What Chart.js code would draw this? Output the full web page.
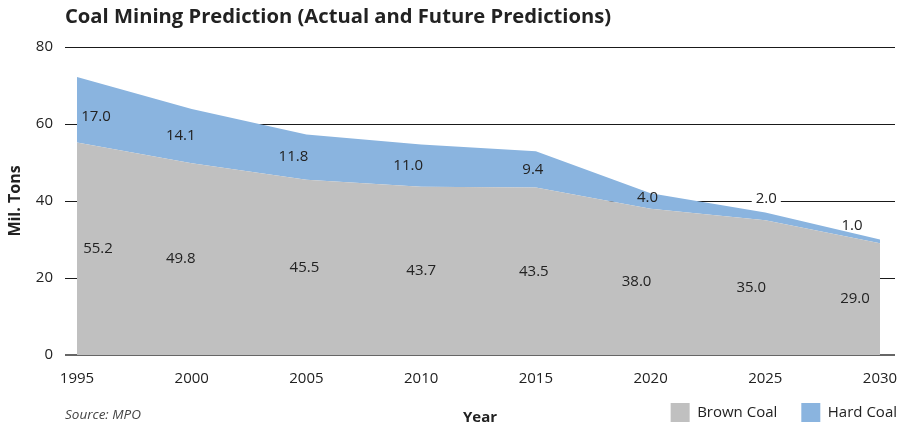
<!DOCTYPE html>
<html>
<head>
<meta charset="utf-8">
<script src="https://cdn.jsdelivr.net/npm/chart.js@4.4.1/dist/chart.umd.min.js"></script>
<style>
  html, body { margin: 0; padding: 0; background: #fff; }
  #wrap { width: 904px; height: 425px; position: relative; }
</style>
</head>
<body>
<div id="wrap"><canvas id="coalChart" width="904" height="425"></canvas></div>
<script>
const years = [1995, 2000, 2005, 2010, 2015, 2020, 2025, 2030];
const brownCoal = [55.2, 49.8, 45.5, 43.7, 43.5, 38.0, 35.0, 29.0];
const hardCoal = [17.0, 14.1, 11.8, 11.0, 9.4, 4.0, 2.0, 1.0];
const yTicks = [0, 20, 40, 60, 80];

// label nudges in pixels (the original placed a few labels off-centre)
const brownDx = [21, -11, -2, 0, -2, -14, -14, -25];
const hardDx = [19, -11, -13, -13, -3, -3, 1, -28];
const hardDy = [7, 0, 0, 0, 0, -3, -18, -16];

const FONT = '"Open Sans", "Noto Sans", sans-serif';
const TEXT = '#222222';

const labelPlugin = {
  id: 'areaLabels',
  afterLayout(chart) {
    // legend sits on the same line as the axis title, bottom right
    const lg = chart.legend;
    if (lg) {
      lg.top -= 16; lg.bottom -= 16;
      lg.left += 26; lg.right += 26;
    }
  },
  afterDatasetsDraw(chart) {
    const { ctx, scales: { x, y } } = chart;
    ctx.save();
    ctx.font = '15px ' + FONT;
    ctx.textAlign = 'center';
    ctx.textBaseline = 'middle';
    years.forEach((yr, i) => {
      const b = brownCoal[i];
      const h = hardCoal[i];
      ctx.fillStyle = TEXT;
      ctx.fillText(b.toFixed(1), x.getPixelForValue(yr) + brownDx[i], y.getPixelForValue(b / 2));
      const hx = x.getPixelForValue(yr) + hardDx[i];
      const hy = y.getPixelForValue(b + h / 2) + hardDy[i];
      const txt = h.toFixed(1);
      const onGrid = yTicks.some((t) => Math.abs(y.getPixelForValue(t) - hy) < 9);
      if (hy < y.getPixelForValue(b + h) - 4 && onGrid) {
        // label sits on a grid line above the band: blank the line behind it
        const w = ctx.measureText(txt).width;
        ctx.fillStyle = '#ffffff';
        ctx.fillRect(hx - w / 2 - 4, hy - 9, w + 8, 18);
      }
      ctx.fillStyle = TEXT;
      ctx.fillText(txt, hx, hy);
    });
    ctx.restore();
  },
  afterDraw(chart) {
    const { ctx } = chart;
    ctx.save();
    ctx.fillStyle = TEXT;
    ctx.textBaseline = 'middle';
    ctx.textAlign = 'left';
    ctx.font = 'bold 20.2px ' + FONT;
    ctx.fillText('Coal Mining Prediction (Actual and Future Predictions)', 65, 17);
    ctx.textBaseline = 'alphabetic';
    ctx.font = 'italic 13.5px ' + FONT;
    ctx.fillStyle = '#444444';
    ctx.fillText('Source: MPO', 65, 419);
    ctx.fillStyle = TEXT;
    ctx.textAlign = 'center';
    ctx.font = 'bold 15px ' + FONT;
    ctx.fillText('Year', 480, 422);
    ctx.restore();
  }
};

new Chart(document.getElementById('coalChart'), {
  type: 'line',
  data: {
    datasets: [{
      label: 'Brown Coal',
      data: years.map((yr, i) => ({ x: yr, y: brownCoal[i] })),
      backgroundColor: '#c0c0c0',
      borderColor: '#c0c0c0',
      borderWidth: 0,
      pointRadius: 0,
      fill: 'origin'
    }, {
      label: 'Hard Coal',
      data: years.map((yr, i) => ({ x: yr, y: hardCoal[i] })),
      backgroundColor: '#8ab4df',
      borderColor: '#8ab4df',
      borderWidth: 0,
      pointRadius: 0,
      fill: '-1'
    }]
  },
  options: {
    responsive: false,
    animation: false,
    layout: { padding: { top: 47, right: 9, left: 0, bottom: -23 } },
    elements: { line: { tension: 0 } },
    scales: {
      x: {
        type: 'linear',
        min: 1994.477,
        max: 2030.654,
        afterBuildTicks: (scale) => { scale.ticks = years.map((v) => ({ value: v })); },
        afterFit: (scale) => {
          scale.height = 40;
          scale.paddingLeft = 0;
          scale.paddingRight = 0;
        },
        border: { display: false },
        grid: { display: false, drawTicks: false },
        ticks: {
          color: TEXT,
          font: { family: FONT, size: 15 },
          padding: 15,
          maxRotation: 0,
          autoSkip: false,
          callback: (v) => String(v)
        }
      },
      y: {
        stacked: true,
        min: 0,
        max: 80,
        afterBuildTicks: (scale) => { scale.ticks = yTicks.map((v) => ({ value: v })); },
        afterFit: (scale) => { scale.width = 65; },
        border: { display: false },
        grid: {
          drawTicks: false,
          color: (c) => (c.tick && c.tick.value === 0 ? '#666666' : '#1a1a1a'),
          lineWidth: (c) => (c.tick && c.tick.value === 0 ? 2 : 1)
        },
        ticks: {
          color: TEXT,
          font: { family: FONT, size: 15 },
          padding: 12
        },
        title: {
          display: true,
          text: 'Mil. Tons',
          color: TEXT,
          font: { family: FONT, size: 16, weight: 'bold' },
          padding: { top: 6, bottom: 0 }
        }
      }
    },
    plugins: {
      legend: {
        position: 'bottom',
        align: 'end',
        labels: {
          color: TEXT,
          font: { family: FONT, size: 15 },
          boxWidth: 19,
          boxHeight: 19,
          padding: 24
        }
      },
      tooltip: { enabled: false },
      title: { display: false }
    }
  },
  plugins: [labelPlugin]
});
</script>
</body>
</html>
